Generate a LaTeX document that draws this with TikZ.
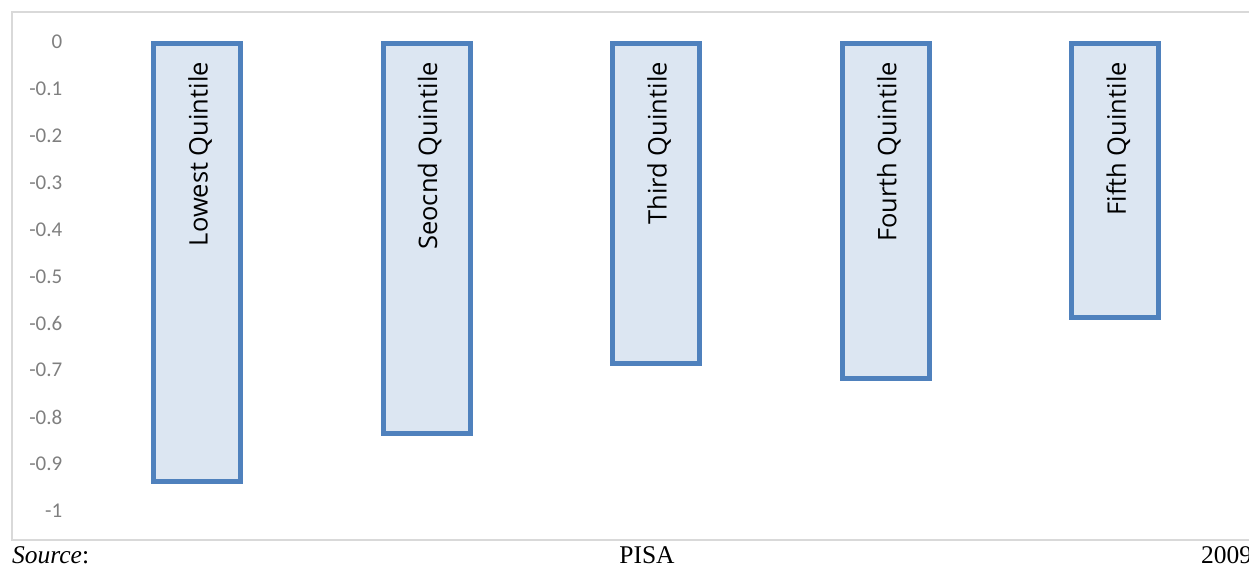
\documentclass[tikz,border=0pt]{standalone}
\usepackage{fontspec}
\setmainfont{Liberation Serif}
\newfontfamily\chartfont{Carlito}
\newfontfamily\labelfont{Open Sans}

\definecolor{barEdge}{HTML}{4F81BD}
\definecolor{barFill}{HTML}{DCE6F2}
\definecolor{frameGray}{HTML}{D9D9D9}
\definecolor{tickGray}{HTML}{7F7F7F}

\def \barHalf {43.5}
\def \barTop {43.5}

\tikzset{
   quintile/.style={draw=barEdge, fill=barFill, line width=5pt},
   barlabel/.style={rotate=90, anchor=base east, inner sep=0pt,
      font=\labelfont\fontsize{25.5}{29}\selectfont},
   ticklabel/.style={anchor=east, inner sep=0pt, text=tickGray,
      font=\chartfont\fontsize{21}{24}\selectfont},
   sourcetext/.style={anchor=base, inner sep=0pt, font=\fontsize{25.5}{30}\selectfont}
}

\begin{document}
\begin{tikzpicture}[x=1pt, y=-1pt]

      \useasboundingbox (0,0) rectangle (1249,565);

      % chart frame, open to the right
      \draw[frameGray, line width=1.5pt] (1260,12) -- (12,12) -- (12,540) -- (1260,540);

      % value axis
      \node[ticklabel] (t0)  at (62.5, 41.5)  {0};
      \node[ticklabel] (t1)  at (62.5, 88.5)  {-0.1};
      \node[ticklabel] (t2)  at (62.5, 135.4) {-0.2};
      \node[ticklabel] (t3)  at (62.5, 182.4) {-0.3};
      \node[ticklabel] (t4)  at (62.5, 229.3) {-0.4};
      \node[ticklabel] (t5)  at (62.5, 276.3) {-0.5};
      \node[ticklabel] (t6)  at (62.5, 323.2) {-0.6};
      \node[ticklabel] (t7)  at (62.5, 370.2) {-0.7};
      \node[ticklabel] (t8)  at (62.5, 417.1) {-0.8};
      \node[ticklabel] (t9)  at (62.5, 464.1) {-0.9};
      \node[ticklabel] (t10) at (62.5, 511)   {-1};

      % bars
      \filldraw[quintile] ({197-\barHalf}, \barTop)    rectangle ({197+\barHalf}, 481.8);
      \filldraw[quintile] ({426.6-\barHalf}, \barTop)  rectangle ({426.6+\barHalf}, 433);
      \filldraw[quintile] ({656.2-\barHalf}, \barTop)  rectangle ({656.2+\barHalf}, 363.5);
      \filldraw[quintile] ({885.8-\barHalf}, \barTop)  rectangle ({885.8+\barHalf}, 378);
      \filldraw[quintile] ({1115.4-\barHalf}, \barTop) rectangle ({1115.4+\barHalf}, 317);

      % bar labels
      \node[barlabel] (lowest) at (207.5, 62)    {Lowest Quintile};
      \node[barlabel] (second) at (437.1, 62)  {Seocnd Quintile};
      \node[barlabel] (third)  at (666.7, 62)  {Third Quintile};
      \node[barlabel] (fourth) at (896.3, 62)  {Fourth Quintile};
      \node[barlabel] (fifth)  at (1125.9, 62) {Fifth Quintile};

      % source line
      \node[sourcetext, anchor=base west] (source) at (12, 563)   {\textit{Source}:};
      \node[sourcetext] (pisa)                     at (647, 563)  {PISA};
      \node[sourcetext, anchor=base west] (year)   at (1201, 563) {2009};

   \end{tikzpicture}
\end{document}
